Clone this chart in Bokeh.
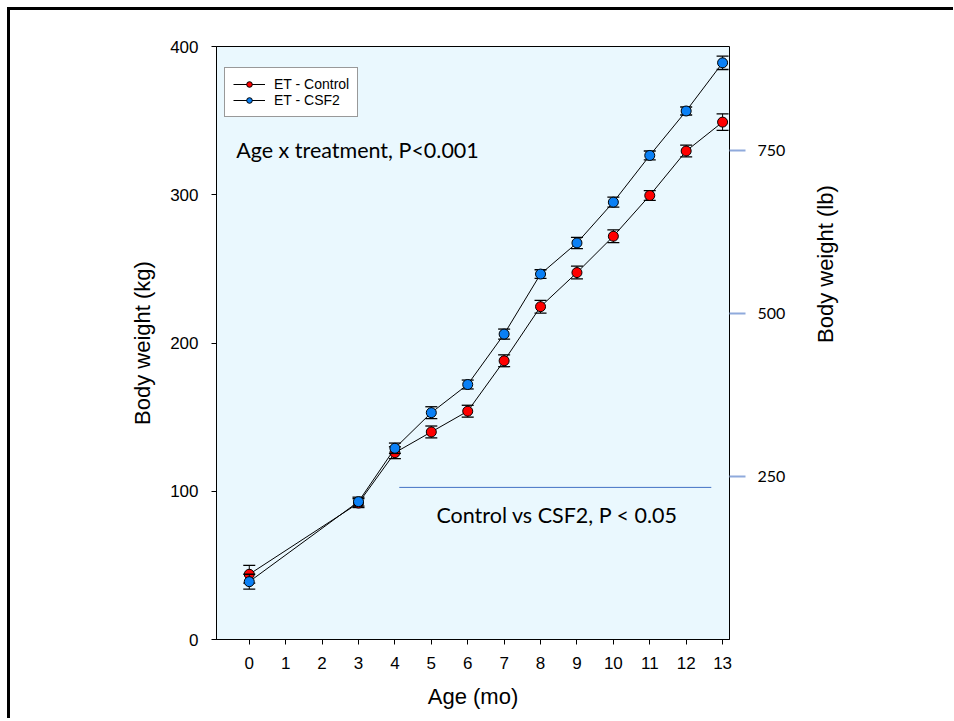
import math
from bokeh.plotting import figure
from bokeh.models import (Range1d, LinearAxis, FixedTicker, Legend, LegendItem,
                          Label, ColumnDataSource)
from bokeh.embed import file_html
from bokeh.resources import INLINE

# ---- data ----
months = [0, 3, 4, 5, 6, 7, 8, 9, 10, 11, 12, 13]
control = [44, 92, 126, 140, 154, 188, 224.5, 247.5, 272, 299.5, 329.5, 349]
control_sem = [6, 3, 4, 4, 4, 4, 4.3, 4.3, 4.3, 3.3, 4, 5.6]
csf2 = [39, 93, 129, 153, 172, 206, 246.5, 267.5, 295, 326.5, 356.5, 389]
csf2_sem = [5, 3, 3.5, 4, 3, 3.4, 2.9, 3.8, 3.4, 3, 2.7, 4.5]
x_ticks = list(range(0, 14))
y_ticks = [0, 100, 200, 300, 400]
lb_ticks = [250, 500, 750]
sig_line_x = [4.12, 12.69]
sig_line_y = 102.6

ARIAL = "Liberation Sans"
CALIBRI = "Lato"

p = figure(width=943, height=708, output_backend="svg", toolbar_location=None,
           x_range=Range1d(-0.9, 13.19), y_range=Range1d(0, 400),
           min_border_left=206, min_border_right=224, min_border_top=36,
           min_border_bottom=79)
p.styles = {"margin-top": "10px", "margin-left": "10px",
            "box-shadow": "0 -3px 0 0 #000, -3px 0 0 0 #000, -3px -3px 0 0 #000"}
p.background_fill_color = "#EAF8FE"
p.border_fill_color = "white"
p.outline_line_color = "black"
p.outline_line_width = 1
p.xgrid.visible = False
p.ygrid.visible = False

# axes
xa = p.xaxis[0]
xa.ticker = FixedTicker(ticks=x_ticks)
xa.axis_label = "Age (mo)"
ya = p.yaxis[0]
ya.ticker = FixedTicker(ticks=y_ticks)
ya.axis_label = "Body weight (kg)"
for ax in (xa, ya):
    ax.axis_line_color = "black"
    ax.major_tick_line_color = "black"
    ax.minor_tick_line_color = None
    ax.major_tick_in = 0
    ax.major_tick_out = 5
    ax.major_label_text_font = ARIAL
    ax.major_label_text_font_size = "17px"
    ax.major_label_text_color = "black"
    ax.axis_label_text_font = ARIAL
    ax.axis_label_text_font_size = "22px"
    ax.axis_label_text_font_style = "normal"
    ax.axis_label_text_color = "black"
xa.major_label_standoff = 12
xa.axis_label_standoff = 12
ya.major_label_standoff = 13
ya.axis_label_standoff = 12

p.extra_y_ranges = {"lb": Range1d(0, 909.5)}
ra = LinearAxis(y_range_name="lb", ticker=FixedTicker(ticks=lb_ticks),
                axis_label="Body weight (lb)")
ra.axis_line_color = None
ra.major_tick_line_color = "#8FAADC"
ra.major_tick_line_width = 2
ra.minor_tick_line_color = None
ra.major_tick_in = 0
ra.major_tick_out = 16
ra.major_label_standoff = 12
ra.major_label_text_font = CALIBRI
ra.major_label_text_font_size = "16px"
ra.major_label_text_color = "black"
ra.axis_label_text_font = ARIAL
ra.axis_label_text_font_size = "22px"
ra.axis_label_text_font_style = "normal"
ra.axis_label_text_color = "black"
ra.axis_label_standoff = 37
ra.axis_label_orientation = math.pi / 2
p.add_layout(ra, "right")

# significance line
p.line(x=sig_line_x, y=[sig_line_y, sig_line_y], line_color="#4472C4", line_width=1)


def series(y, sem, color):
    lo = [a - b for a, b in zip(y, sem)]
    hi = [a + b for a, b in zip(y, sem)]
    src = ColumnDataSource(dict(x=months, y=y, lo=lo, hi=hi))
    ln = p.line("x", "y", source=src, line_color="black", line_width=1)
    p.segment(x0="x", y0="lo", x1="x", y1="hi", source=src, line_color="black", line_width=1)
    p.scatter("x", "hi", source=src, marker="dash", size=12, line_color="black", line_width=1.3)
    p.scatter("x", "lo", source=src, marker="dash", size=12, line_color="black", line_width=1.3)
    pts = p.scatter("x", "y", source=src, marker="circle", size=10, fill_color=color,
                    line_color="black", line_width=1)
    return ln, pts


r_line, r_pts = series(control, control_sem, "#FF0000")
b_line, b_pts = series(csf2, csf2_sem, "#0A80F5")

legend = Legend(items=[LegendItem(label="ET - Control", renderers=[r_line, r_pts]),
                       LegendItem(label="ET - CSF2", renderers=[b_line, b_pts])],
                location=(8, 522))
legend.label_text_font = ARIAL
legend.label_text_font_size = "14px"
legend.label_text_color = "black"
legend.glyph_width = 32
legend.glyph_height = 14
legend.label_height = 14
legend.label_standoff = 9
legend.spacing = 0
legend.padding = 8
legend.margin = 0
legend.border_line_color = "#333333"
legend.border_line_width = 1
legend.background_fill_color = "white"
legend.background_fill_alpha = 1
p.add_layout(legend)

p.add_layout(Label(x=-0.36, y=330, text="Age x treatment, P<0.001", text_font=CALIBRI,
                   text_font_size="21.5px", text_baseline="middle", text_color="black"))
p.add_layout(Label(x=5.14, y=83.7, text="Control vs CSF2, P < 0.05", text_font=CALIBRI,
                   text_font_size="21.5px", text_baseline="middle", text_color="black"))

open("out.html", "w").write(file_html(p, INLINE))
